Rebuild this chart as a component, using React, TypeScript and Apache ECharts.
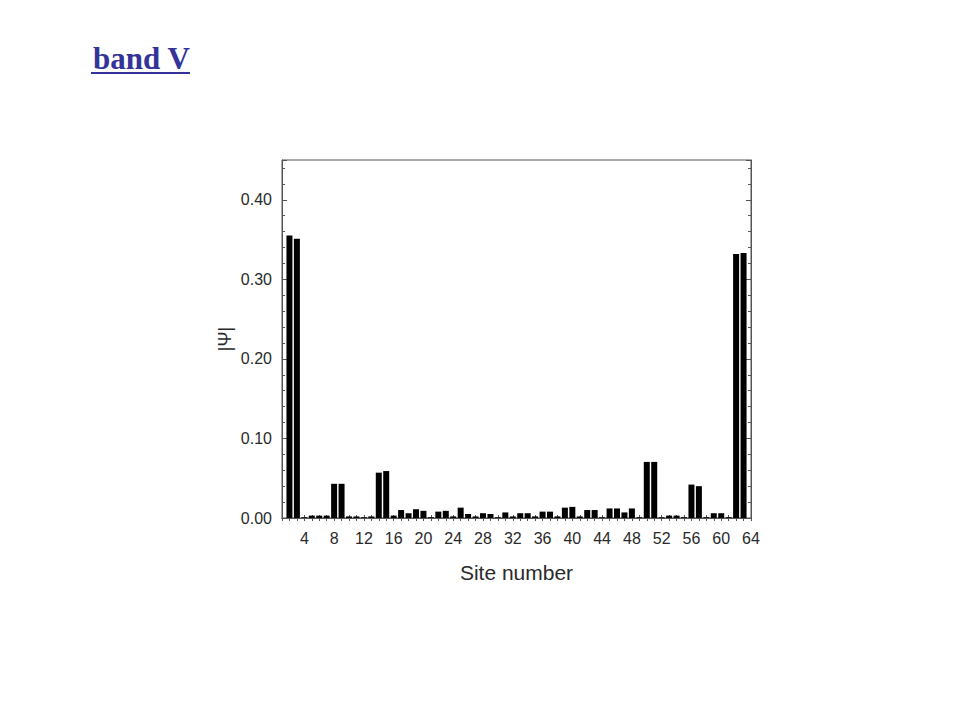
import React, { useEffect, useRef } from "react";
import * as echarts from "echarts";

const titleText = "band V";
const xAxisName = "Site number";
const yAxisName = "|Ψ|";

const sites: string[] = Array.from({ length: 64 }, (_, i) => String(i + 1));

const psiValues: number[] = [
  0.0, 0.355, 0.351, 0.001, 0.003, 0.003, 0.003, 0.043,
  0.043, 0.002, 0.002, 0.001, 0.002, 0.057, 0.059, 0.003,
  0.010, 0.006, 0.011, 0.009, 0.001, 0.008, 0.009, 0.002,
  0.013, 0.005, 0.002, 0.006, 0.005, 0.001, 0.007, 0.002,
  0.006, 0.006, 0.002, 0.008, 0.008, 0.002, 0.013, 0.014,
  0.002, 0.010, 0.010, 0.001, 0.012, 0.012, 0.007, 0.012,
  0.001, 0.0705, 0.0705, 0.001, 0.003, 0.003, 0.001, 0.042,
  0.040, 0.001, 0.006, 0.006, 0.001, 0.332, 0.333, 0.0,
];

const yMin = 0;
const yMax = 0.45;
const yStep = 0.1;

export default function App() {
  const ref = useRef<HTMLDivElement>(null);
  useEffect(() => {
    if (!ref.current) return;
    const chart = echarts.init(ref.current, undefined, { renderer: "svg" });
    const axisColor = "#555";
    const labelColor = "#2a2a2a";
    const font = "Liberation Sans";
    const showLabel = (idx: number) => (idx + 1) % 4 === 0;
    chart.setOption({
      animation: false,
      backgroundColor: "#ffffff",
      title: {
        text: titleText,
        left: 88,
        top: 38,
        textStyle: {
          fontFamily: "Liberation Serif",
          fontWeight: "bold",
          fontSize: 31,
          color: "#333399",
        },
      },
      graphic: [
        {
          type: "rect",
          shape: { x: 91, y: 72, width: 99, height: 2 },
          style: { fill: "#333399" },
        },
      ],
      grid: { left: 282, right: 209, top: 160, bottom: 202, show: true, borderColor: axisColor, borderWidth: 1 },
      xAxis: [
        {
          type: "category",
          data: sites,
          boundaryGap: false,
          name: xAxisName,
          nameLocation: "middle",
          nameGap: 44,
          nameTextStyle: { fontFamily: font, fontSize: 21, color: labelColor },
          axisLine: { lineStyle: { color: axisColor } },
          axisTick: { inside: true, interval: 0, length: 3, lineStyle: { color: axisColor } },
          axisLabel: { interval: (idx: number) => showLabel(idx), margin: 12, fontFamily: font, fontSize: 16, color: labelColor },
          splitLine: { show: false },
        },
        {
          type: "category",
          data: sites,
          boundaryGap: false,
          position: "top",
          axisLine: { lineStyle: { color: axisColor } },
          axisTick: { inside: true, interval: 0, length: 3, lineStyle: { color: axisColor } },
          axisLabel: { show: false },
          splitLine: { show: false },
        },
      ],
      yAxis: [
        {
          type: "value",
          min: yMin,
          max: yMax,
          interval: yStep,
          name: yAxisName,
          nameLocation: "middle",
          nameGap: 48,
          nameTextStyle: { fontFamily: font, fontSize: 18, color: labelColor },
          axisLine: { show: true, lineStyle: { color: axisColor } },
          axisTick: { show: true, inside: true, length: 5, lineStyle: { color: axisColor } },
          minorTick: { show: true, splitNumber: 5, length: 3, lineStyle: { color: axisColor } },
          axisLabel: {
            margin: 10,
            fontFamily: font,
            fontSize: 16,
            color: labelColor,
            showMaxLabel: false,
            formatter: (v: number) => v.toFixed(2),
          },
          splitLine: { show: false },
        },
        {
          type: "value",
          min: yMin,
          max: yMax,
          interval: yStep,
          position: "right",
          axisLine: { show: true, lineStyle: { color: axisColor } },
          axisTick: { show: true, inside: true, length: 5, lineStyle: { color: axisColor } },
          minorTick: { show: true, splitNumber: 5, length: 3, lineStyle: { color: axisColor } },
          axisLabel: { show: false },
          splitLine: { show: false },
        },
      ],
      series: [
        {
          type: "bar",
          data: psiValues,
          xAxisIndex: 0,
          yAxisIndex: 0,
          barWidth: 6,
          itemStyle: { color: "#000000" },
        },
      ],
    });
    return () => chart.dispose();
  }, []);
  return <div ref={ref} style={{ position: "fixed", left: 0, top: 0, width: 960, height: 720 }} />;
}
